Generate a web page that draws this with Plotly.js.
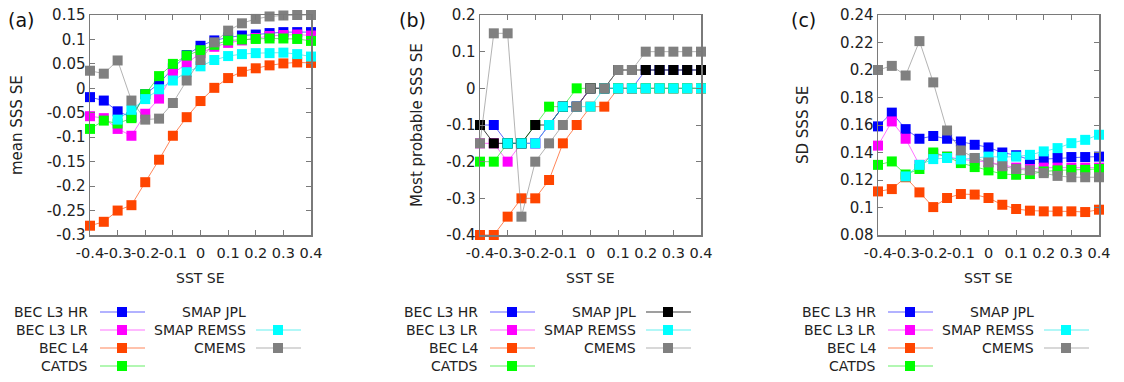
<!DOCTYPE html>
<html>
<head>
<meta charset="utf-8">
<script src="https://cdn.plot.ly/plotly-3.0.1.min.js"></script>
<style>
  html, body { margin: 0; padding: 0; background: #fff; }
  #wykres { width: 1124px; height: 382px; }
</style>
</head>
<body>
<div id="wykres"></div>
<script>
// os x - SST SE
const sstSE = [-0.4, -0.35, -0.3, -0.25, -0.2, -0.15, -0.1, -0.05, 0, 0.05, 0.1, 0.15, 0.2, 0.25, 0.3, 0.35, 0.4];
const xTicks = [-0.4, -0.3, -0.2, -0.1, 0, 0.1, 0.2, 0.3, 0.4];
const xTickText = ['-0.4', '-0.3', '-0.2', '-0.1', '0', '0.1', '0.2', '0.3', '0.4'];

// nazwy i kolory produktow (kolejnosc z legendy)
const nazwy = ['BEC L3 HR', 'BEC L3 LR', 'BEC L4', 'CATDS', 'SMAP JPL', 'SMAP REMSS', 'CMEMS'];
const kolory = ['#0000ff', '#ff00ff', '#ff4500', '#00ff00', '#000000', '#00ffff', '#808080'];
const koloryLinii = ['rgba(0,0,255,0.6)', 'rgba(255,0,255,0.55)', 'rgba(255,69,0,0.65)', 'rgba(0,230,0,0.6)',
  'rgba(0,0,0,0.75)', 'rgba(0,230,230,0.6)', 'rgba(128,128,128,0.6)'];

// (a) mean SSS SE
const meanHR = [-0.018, -0.025, -0.047, -0.059, -0.012, 0.010, 0.041, 0.068, 0.087, 0.098, 0.104, 0.108, 0.110, 0.113, 0.115, 0.115, 0.115];
const meanLR = [-0.057, -0.061, -0.083, -0.097, -0.052, -0.021, 0.030, 0.051, 0.072, 0.085, 0.093, 0.098, 0.103, 0.107, 0.109, 0.110, 0.108];
const meanL4 = [-0.281, -0.273, -0.250, -0.239, -0.192, -0.146, -0.097, -0.059, -0.026, 0.001, 0.021, 0.034, 0.041, 0.047, 0.051, 0.053, 0.052];
const meanCATDS = [-0.083, -0.066, -0.072, -0.061, -0.012, 0.025, 0.050, 0.067, 0.078, 0.089, 0.098, 0.100, 0.101, 0.102, 0.102, 0.101, 0.097];
const meanJPL = null;
const meanREMSS = [null, null, -0.064, -0.044, -0.022, -0.002, 0.016, 0.033, 0.045, 0.058, 0.066, 0.070, 0.072, 0.072, 0.073, 0.070, 0.065];
const meanCMEMS = [0.036, 0.030, 0.057, -0.025, -0.064, -0.062, -0.030, 0.016, 0.058, 0.094, 0.118, 0.133, 0.142, 0.147, 0.149, 0.150, 0.150];
const meanTicks = [-0.3, -0.25, -0.2, -0.15, -0.1, -0.05, 0, 0.05, 0.1, 0.15];
const meanTickText = ['-0.3', '-0.25', '-0.2', '-0.15', '-0.1', '-0.05', '0', '0.05', '0.1', '0.15'];

// (b) most probable SSS SE
const mostHR = [-0.1, -0.1, -0.15, -0.15, -0.15, -0.1, -0.05, -0.05, 0, 0, 0, 0, 0.05, 0.05, 0.05, 0.05, 0.05];
const mostLR = [-0.15, -0.15, -0.2, -0.15, -0.15, -0.1, -0.05, -0.05, 0, 0, 0, 0, 0, 0, 0, 0, 0];
const mostL4 = [-0.4, -0.4, -0.35, -0.3, -0.3, -0.25, -0.15, -0.1, -0.05, -0.05, 0, 0, 0, 0, 0, 0, 0];
const mostCATDS = [-0.2, -0.2, -0.15, -0.15, -0.1, -0.05, -0.05, 0, 0, 0, 0, 0, 0, 0, 0, 0, 0];
const mostJPL = [-0.1, -0.15, -0.15, -0.15, -0.1, -0.1, -0.05, -0.05, 0, 0, 0.05, 0.05, 0.05, 0.05, 0.05, 0.05, 0.05];
const mostREMSS = [null, null, -0.15, -0.15, -0.15, -0.1, -0.05, -0.05, -0.05, 0, 0, 0, 0, 0, 0, 0, 0];
const mostCMEMS = [-0.15, 0.15, 0.15, -0.35, -0.2, -0.15, -0.1, -0.05, 0, 0, 0.05, 0.05, 0.1, 0.1, 0.1, 0.1, 0.1];
const mostTicks = [-0.4, -0.3, -0.2, -0.1, 0, 0.1, 0.2];
const mostTickText = ['-0.4', '-0.3', '-0.2', '-0.1', '0', '0.1', '0.2'];

// (c) SD SSS SE
const sdHR = [0.159, 0.169, 0.157, 0.150, 0.152, 0.150, 0.148, 0.1456, 0.1437, 0.140, 0.138, 0.1347, 0.1352, 0.136, 0.1367, 0.1367, 0.137];
const sdLR = [0.145, 0.1626, 0.150, 0.131, 0.139, 0.137, 0.135, 0.134, 0.133, 0.131, 0.129, 0.128, 0.129, 0.129, 0.129, 0.129, 0.129];
const sdL4 = [0.1117, 0.1134, 0.122, 0.111, 0.1003, 0.1069, 0.1098, 0.1094, 0.1069, 0.102, 0.0989, 0.0977, 0.0972, 0.0972, 0.0972, 0.0967, 0.0984];
const sdCATDS = [0.131, 0.1335, 0.124, 0.128, 0.140, 0.137, 0.1323, 0.1294, 0.127, 0.1243, 0.1238, 0.1243, 0.1262, 0.127, 0.1274, 0.1274, 0.128];
const sdJPL = null;
const sdREMSS = [null, null, 0.1226, 0.131, 0.1352, 0.136, 0.135, 0.136, 0.137, 0.1367, 0.137, 0.1383, 0.1408, 0.1432, 0.1468, 0.1492, 0.1529];
const sdCMEMS = [0.200, 0.203, 0.196, 0.221, 0.191, 0.156, 0.1415, 0.136, 0.1328, 0.130, 0.128, 0.127, 0.125, 0.123, 0.122, 0.122, 0.122];
const sdTicks = [0.08, 0.1, 0.12, 0.14, 0.16, 0.18, 0.2, 0.22, 0.24];
const sdTickText = ['0.08', '0.1', '0.12', '0.14', '0.16', '0.18', '0.2', '0.22', '0.24'];

// rozmiar strony w pikselach i przeliczanie na wspolrzedne paper
const W = 1124, H = 382;
const px = v => v / W;
const py = v => 1 - v / H;

const panele = [
  { litera: '(a)', tytulY: 'mean SSS SE', lewa: 90, prawa: 311, tytulX: 17, literaX: 21,
    zakres: [-0.3, 0.15], ticki: meanTicks, tickiTekst: meanTickText,
    serie: [meanHR, meanLR, meanL4, meanCATDS, meanJPL, meanREMSS, meanCMEMS] },
  { litera: '(b)', tytulY: 'Most probable SSS SE', lewa: 480, prawa: 701, tytulX: 417, literaX: 412,
    zakres: [-0.4, 0.2], ticki: mostTicks, tickiTekst: mostTickText,
    serie: [mostHR, mostLR, mostL4, mostCATDS, mostJPL, mostREMSS, mostCMEMS] },
  { litera: '(c)', tytulY: 'SD SSS SE', lewa: 878, prawa: 1099, tytulX: 803, literaX: 803,
    zakres: [0.08, 0.24], ticki: sdTicks, tickiTekst: sdTickText,
    serie: [sdHR, sdLR, sdL4, sdCATDS, sdJPL, sdREMSS, sdCMEMS] }
];

const gora = 15, dol = 235;
const czcionka = 'DejaVu Sans, Verdana, sans-serif';
const kolorTekstu = '#222';
const kolorRamki = '#7a7a7a';

const data = [];
const layout = {
  width: W,
  height: H,
  margin: { l: 0, r: 0, t: 0, b: 0 },
  paper_bgcolor: '#fff',
  plot_bgcolor: '#fff',
  showlegend: false,
  font: { family: czcionka, size: 14, color: kolorTekstu },
  annotations: [],
  shapes: []
};

// wiersze legendy: kolumna 1 - 4 wpisy, kolumna 2 - 3 wpisy
const wierszeY = [312, 330, 348, 366];

panele.forEach((p, k) => {
  const nr = k === 0 ? '' : String(k + 1);

  layout['xaxis' + nr] = {
    domain: [px(p.lewa), px(p.prawa)],
    anchor: 'y' + nr,
    range: [-0.4, 0.4],
    tickmode: 'array', tickvals: xTicks, ticktext: xTickText,
    tickangle: 0, ticklabelstandoff: 4,
    ticks: 'inside', ticklen: 5, tickcolor: kolorRamki, tickwidth: 1,
    showline: true, linecolor: kolorRamki, linewidth: 1.5, mirror: 'ticks',
    showgrid: false, zeroline: false, automargin: false,
    tickfont: { family: czcionka, size: 14.5, color: kolorTekstu }
  };
  layout['yaxis' + nr] = {
    domain: [py(dol), py(gora)],
    anchor: 'x' + nr,
    range: p.zakres,
    tickmode: 'array', tickvals: p.ticki, ticktext: p.tickiTekst,
    ticks: 'inside', ticklen: 5, tickcolor: kolorRamki, tickwidth: 1,
    showline: true, linecolor: kolorRamki, linewidth: 1.5, mirror: 'ticks',
    showgrid: false, zeroline: false, automargin: false,
    tickfont: { family: czcionka, size: 15, color: kolorTekstu }
  };

  // serie danych
  p.serie.forEach((s, i) => {
    if (!s) return;
    data.push({
      x: sstSE, y: s,
      xaxis: 'x' + nr, yaxis: 'y' + nr,
      type: 'scatter', mode: 'lines+markers',
      name: nazwy[i],
      cliponaxis: false,
      line: { color: koloryLinii[i], width: 1 },
      marker: { symbol: 'square', size: 10, color: kolory[i], line: { width: 0 } }
    });
  });

  // litera panelu, tytuly osi
  layout.annotations.push(
    { text: p.litera, xref: 'paper', yref: 'paper', x: px(p.literaX), y: py(20),
      xanchor: 'center', yanchor: 'middle', showarrow: false, font: { size: 19, color: '#111' } },
    { text: p.tytulY, xref: 'paper', yref: 'paper', x: px(p.tytulX), y: py((gora + dol) / 2),
      xanchor: 'center', yanchor: 'middle', textangle: -90, showarrow: false, font: { size: 15, color: kolorTekstu } },
    { text: 'SST SE', xref: 'paper', yref: 'paper', x: px((p.lewa + p.prawa) / 2), y: py(278),
      xanchor: 'center', yanchor: 'middle', showarrow: false, font: { size: 14, color: kolorTekstu } }
  );

  // legenda rysowana recznie (tekst po lewej, probka po prawej)
  nazwy.forEach((nazwa, i) => {
    const kol = i < 4 ? 0 : 1;
    const wy = wierszeY[kol === 0 ? i : i - 4];
    const tekstX = p.lewa + (kol === 0 ? 0 : 158);
    const liniaX0 = p.lewa + (kol === 0 ? 10 : 166);
    const liniaX1 = liniaX0 + 45;
    const markerX = liniaX0 + 22;
    layout.annotations.push({
      text: nazwa, xref: 'paper', yref: 'paper', x: px(tekstX), y: py(wy),
      xanchor: 'right', yanchor: 'middle', showarrow: false, font: { size: 14, color: kolorTekstu }
    });
    if (!p.serie[i]) return;
    layout.shapes.push(
      { type: 'line', xref: 'paper', yref: 'paper', x0: px(liniaX0), x1: px(liniaX1), y0: py(wy), y1: py(wy),
        line: { color: koloryLinii[i], width: 1.2 } },
      { type: 'rect', xref: 'paper', yref: 'paper', x0: px(markerX - 5), x1: px(markerX + 5),
        y0: py(wy - 5), y1: py(wy + 5), fillcolor: kolory[i], line: { width: 0 } }
    );
  });
});

Plotly.newPlot('wykres', data, layout, { staticPlot: true });
</script>
</body>
</html>
